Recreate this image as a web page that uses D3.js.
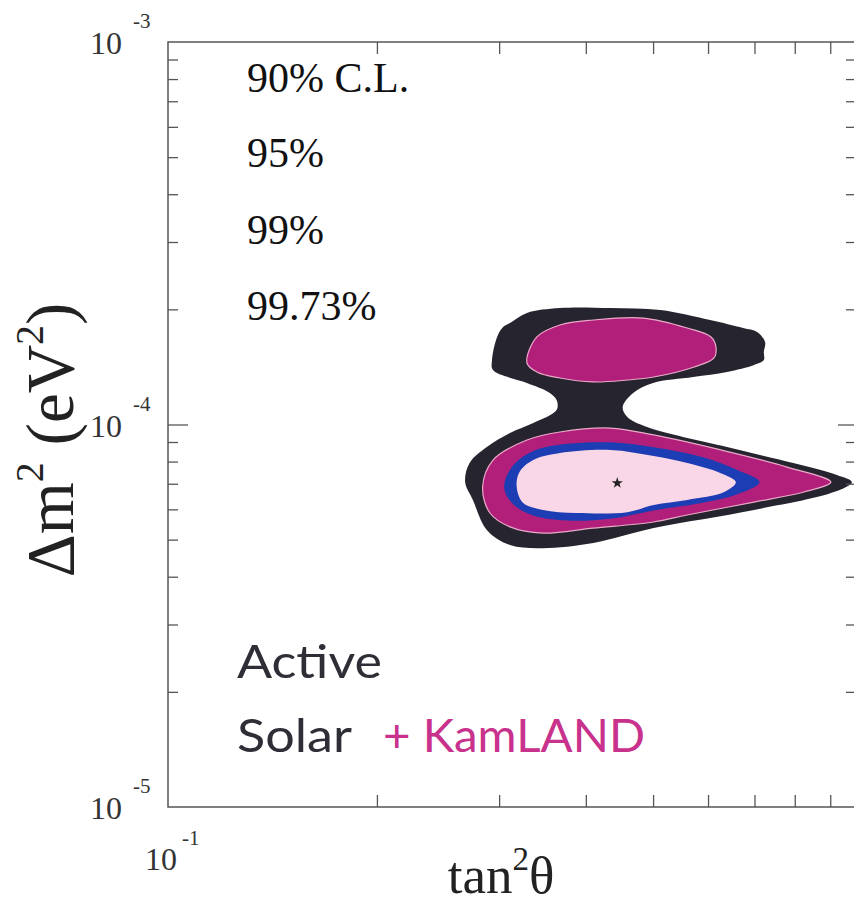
<!DOCTYPE html>
<html>
<head>
<meta charset="utf-8">
<script src="https://cdn.jsdelivr.net/npm/d3@7/dist/d3.min.js"></script>
<style>
  html, body { margin: 0; padding: 0; background: #fff; }
  svg { display: block; }
</style>
</head>
<body>
<svg id="chart" width="854" height="906"></svg>
<script>
// ---- axes ----
const xDomain = [0.1, 1];
const yDomain = [1e-5, 1e-3];
const xMinorTicks = [0.2, 0.3, 0.4, 0.5, 0.6, 0.7, 0.8, 0.9];
const yMinorTicks = [2e-5, 3e-5, 4e-5, 5e-5, 6e-5, 7e-5, 8e-5, 9e-5,
                     2e-4, 3e-4, 4e-4, 5e-4, 6e-4, 7e-4, 8e-4, 9e-4];
const yMajorTicks = [1e-4];
const xTickLabels = [{ value: 0.1, exp: "-1" }];
const yTickLabels = [{ value: 1e-3, exp: "-3" }, { value: 1e-4, exp: "-4" }, { value: 1e-5, exp: "-5" }];

// ---- allowed regions, boundaries as [tan^2(theta), dm^2 (eV^2)] ----
const region9973 = [
  [0.293, 1.474e-4], [0.298, 1.694e-4], [0.304, 1.798e-4], [0.311, 1.843e-4],
  [0.329, 1.957e-4], [0.367, 2.016e-4], [0.434, 2.016e-4], [0.512, 1.992e-4],
  [0.604, 1.876e-4], [0.674, 1.788e-4], [0.706, 1.746e-4], [0.725, 1.643e-4],
  [0.722, 1.547e-4], [0.722, 1.474e-4], [0.699, 1.431e-4], [0.639, 1.372e-4],
  [0.571, 1.331e-4], [0.500, 1.284e-4], [0.468, 1.209e-4], [0.452, 1.111e-4],
  [0.459, 1.046e-4], [0.490, 9.85e-5], [0.639, 8.73e-5], [0.796, 7.93e-5],
  [0.920, 7.38e-5], [0.967, 7.07e-5], [0.911, 6.66e-5], [0.699, 5.98e-5],
  [0.501, 5.36e-5], [0.410, 4.90e-5], [0.347, 4.75e-5], [0.311, 4.84e-5],
  [0.288, 5.30e-5], [0.275, 6.35e-5], [0.268, 7.07e-5], [0.272, 7.93e-5],
  [0.288, 8.73e-5], [0.311, 9.50e-5], [0.336, 1.009e-4], [0.363, 1.091e-4],
  [0.363, 1.159e-4], [0.353, 1.216e-4], [0.329, 1.284e-4], [0.294, 1.388e-4]
];
const region99Upper = [
  [0.329, 1.448e-4], [0.340, 1.694e-4], [0.367, 1.820e-4], [0.410, 1.876e-4],
  [0.484, 1.898e-4], [0.560, 1.788e-4], [0.606, 1.694e-4], [0.616, 1.594e-4],
  [0.612, 1.493e-4], [0.573, 1.414e-4], [0.501, 1.331e-4], [0.459, 1.307e-4],
  [0.410, 1.292e-4], [0.367, 1.323e-4], [0.340, 1.372e-4]
];
const region99Lower = [
  [0.284, 6.86e-5], [0.294, 8.07e-5], [0.329, 9.11e-5], [0.367, 9.56e-5],
  [0.434, 9.79e-5], [0.501, 9.39e-5], [0.626, 8.58e-5], [0.780, 7.74e-5],
  [0.902, 7.07e-5], [0.825, 6.66e-5], [0.699, 6.27e-5], [0.560, 5.80e-5],
  [0.501, 5.56e-5], [0.410, 5.36e-5], [0.347, 5.20e-5], [0.311, 5.40e-5],
  [0.291, 5.87e-5]
];
const region95 = [
  [0.305, 6.86e-5], [0.313, 7.74e-5], [0.336, 8.52e-5], [0.376, 8.90e-5],
  [0.434, 8.98e-5], [0.501, 8.72e-5], [0.592, 8.20e-5], [0.660, 7.62e-5],
  [0.712, 7.07e-5], [0.660, 6.56e-5], [0.592, 6.25e-5], [0.501, 5.96e-5],
  [0.434, 5.67e-5], [0.376, 5.61e-5], [0.336, 5.78e-5], [0.313, 6.23e-5]
];
const region90 = [
  [0.318, 6.86e-5], [0.321, 7.51e-5], [0.336, 8.07e-5], [0.367, 8.42e-5],
  [0.434, 8.58e-5], [0.501, 8.27e-5], [0.560, 7.93e-5], [0.626, 7.46e-5],
  [0.658, 7.07e-5], [0.633, 6.66e-5], [0.560, 6.35e-5], [0.501, 6.16e-5],
  [0.459, 5.90e-5], [0.388, 5.87e-5], [0.347, 5.98e-5], [0.325, 6.23e-5]
];
const bestFit = [0.444, 7.03e-5];
const clLabels = ["90% C.L.", "95%", "99%", "99.73%"];

// ---- layout ----
const frame = { left: 168, right: 862, top: 42, bottom: 807 };
const serif = "'Liberation Serif', 'Times New Roman', serif";
const sans = "Lato, 'DejaVu Sans', sans-serif";

const x = d3.scaleLog().domain(xDomain).range([frame.left, frame.right]);
const y = d3.scaleLog().domain(yDomain).range([frame.bottom, frame.top]);

const svg = d3.select("#chart");

// filled confidence regions, outermost first
const area = d3.line()
  .x(d => x(d[0]))
  .y(d => y(d[1]))
  .curve(d3.curveCatmullRomClosed.alpha(0.5));

const layers = [
  { pts: region9973, fill: "#26242f", stroke: "none" },
  { pts: region99Upper, fill: "#b11f7a", stroke: "#eaa9c9" },
  { pts: region99Lower, fill: "#b11f7a", stroke: "#eaa9c9" },
  { pts: region95, fill: "#1c3db3", stroke: "none" },
  { pts: region90, fill: "#fad7e7", stroke: "none" }
];
svg.append("g").selectAll("path")
  .data(layers)
  .join("path")
  .attr("d", d => area(d.pts))
  .attr("fill", d => d.fill)
  .attr("stroke", d => d.stroke)
  .attr("stroke-width", 1.2);

// best fit point
svg.append("path")
  .attr("d", d3.symbol(d3.symbolStar, 40)())
  .attr("transform", `translate(${x(bestFit[0])},${y(bestFit[1])})`)
  .attr("fill", "#222");

// frame
svg.append("rect")
  .attr("x", frame.left).attr("y", frame.top)
  .attr("width", frame.right - frame.left)
  .attr("height", frame.bottom - frame.top)
  .attr("fill", "none").attr("stroke", "#555").attr("stroke-width", 1.5);

// inward ticks on all four sides
function styleTicks(g) {
  g.select(".domain").remove();
  g.selectAll(".tick line").attr("stroke", "#555").attr("stroke-width", 1.3);
}
svg.append("g").attr("transform", `translate(0,${frame.bottom})`)
  .call(d3.axisBottom(x).tickValues(xMinorTicks).tickSize(-12).tickFormat("")).call(styleTicks);
svg.append("g").attr("transform", `translate(0,${frame.top})`)
  .call(d3.axisTop(x).tickValues(xMinorTicks).tickSize(-12).tickFormat("")).call(styleTicks);
svg.append("g").attr("transform", `translate(${frame.left},0)`)
  .call(d3.axisLeft(y).tickValues(yMinorTicks).tickSize(-10).tickFormat("")).call(styleTicks);
svg.append("g").attr("transform", `translate(${frame.left},0)`)
  .call(d3.axisLeft(y).tickValues(yMajorTicks).tickSize(-20).tickFormat("")).call(styleTicks);
svg.append("g").attr("transform", `translate(${frame.right},0)`)
  .call(d3.axisRight(y).tickValues(yMinorTicks).tickSize(-16).tickFormat("")).call(styleTicks);
svg.append("g").attr("transform", `translate(${frame.right},0)`)
  .call(d3.axisRight(y).tickValues(yMajorTicks).tickSize(-24).tickFormat("")).call(styleTicks);

// power-of-ten tick labels
const tickLabels = svg.append("g").attr("font-family", serif).attr("fill", "#333");
yTickLabels.forEach(t => {
  const py = y(t.value);
  tickLabels.append("text").attr("x", frame.left - 46).attr("y", py + 12)
    .attr("text-anchor", "end").attr("font-size", 32).text("10");
  tickLabels.append("text").attr("x", frame.left - 35).attr("y", py - 14)
    .attr("font-size", 21).text(t.exp);
});
xTickLabels.forEach(t => {
  const px = x(t.value);
  tickLabels.append("text").attr("x", px + 9).attr("y", frame.bottom + 63)
    .attr("text-anchor", "end").attr("font-size", 32).text("10");
  tickLabels.append("text").attr("x", px + 14).attr("y", frame.bottom + 38)
    .attr("font-size", 21).text(t.exp);
});

// axis titles
const xt = svg.append("text").attr("x", 501).attr("y", 893)
  .attr("text-anchor", "middle").attr("font-family", serif)
  .attr("font-size", 53).attr("fill", "#222");
xt.append("tspan").text("tan");
xt.append("tspan").attr("dy", -23).attr("font-size", 33).text("2");
xt.append("tspan").attr("dy", 23).text("θ");

const yt = svg.append("text")
  .attr("transform", "translate(73,440) rotate(-90)")
  .attr("text-anchor", "middle").attr("font-family", serif)
  .attr("font-size", 67).attr("fill", "#222");
yt.append("tspan").text("Δm");
yt.append("tspan").attr("dy", -30).attr("font-size", 40).text("2");
yt.append("tspan").attr("dy", 30).text(" (eV");
yt.append("tspan").attr("dy", -30).attr("font-size", 40).text("2");
yt.append("tspan").attr("dy", 30).text(")");

// confidence level labels
svg.append("g").selectAll("text")
  .data(clLabels)
  .join("text")
  .attr("x", 247)
  .attr("y", (d, i) => [92, 167, 244, 320][i])
  .attr("font-family", serif).attr("font-size", 42).attr("fill", "#111")
  .text(d => d);

// analysis description
const desc = svg.append("g").attr("font-family", sans).attr("font-size", 47).attr("font-weight", 400);
desc.append("text").attr("x", 237).attr("y", 678).attr("fill", "#2e2e36")
  .attr("textLength", 145).attr("lengthAdjust", "spacingAndGlyphs").text("Active");
desc.append("text").attr("x", 237).attr("y", 752).attr("fill", "#2e2e36")
  .attr("textLength", 115).attr("lengthAdjust", "spacingAndGlyphs").text("Solar");
desc.append("text").attr("x", 383).attr("y", 752).attr("fill", "#c8328c")
  .attr("textLength", 262).attr("lengthAdjust", "spacingAndGlyphs").text("+ KamLAND");
</script>
</body>
</html>
